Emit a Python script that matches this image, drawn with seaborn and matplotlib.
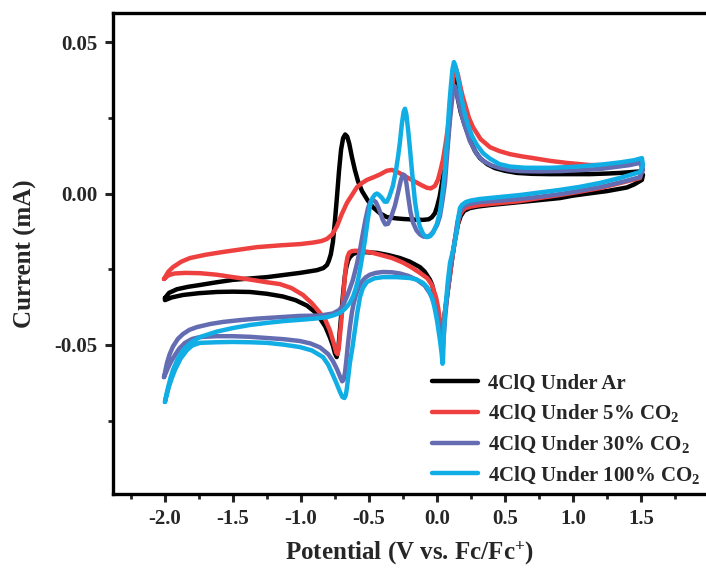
import numpy as np
import pandas as pd
import matplotlib
matplotlib.use("Agg")
import matplotlib.pyplot as plt
import seaborn as sns
from matplotlib.ticker import FixedLocator, FixedFormatter

# ---------------- data: (Potential V vs Fc/Fc+, Current mA) ----------------
labels = ["4ClQ Under Ar", "4ClQ Under 5% CO$_2$",
          "4ClQ Under 30% CO$_2$", "4ClQ Under 100% CO$_2$"]
colors = ["#000000", "#EF4040", "#646CB2", "#10AEE4"]

# Ar -- anodic branch (-2.0 -> 1.5)
ar_anodic = [(-2.0, -0.0345), (-1.97, -0.0328), (-1.912, -0.0316), (-1.83, -0.0308), (-1.743, -0.0302),
             (-1.62, -0.0293), (-1.5, -0.0285), (-1.25, -0.0276), (-1.007, -0.0262), (-0.882, -0.0253),
             (-0.835, -0.0246), (-0.809, -0.0236), (-0.795, -0.0222), (-0.78, -0.0200), (-0.765, -0.0160),
             (-0.75, -0.0090), (-0.735, -0.0010), (-0.72, 0.0075), (-0.705, 0.0145), (-0.69, 0.0183),
             (-0.675, 0.0195), (-0.66, 0.0188), (-0.645, 0.0165), (-0.625, 0.0120), (-0.603, 0.0077),
             (-0.58, 0.0040), (-0.551, 0.0008), (-0.51, -0.0022), (-0.471, -0.0045), (-0.42, -0.0065),
             (-0.368, -0.0078), (-0.30, -0.0082), (-0.25, -0.0084), (-0.17, -0.0086), (-0.103, -0.0087),
             (-0.06, -0.0085), (-0.037, -0.0078), (-0.015, -0.0065), (0.0, -0.0045), (0.02, -0.0010),
             (0.037, 0.0035), (0.055, 0.0090), (0.074, 0.0150), (0.09, 0.0230), (0.103, 0.0305),
             (0.115, 0.0360), (0.125, 0.0380), (0.137, 0.0362), (0.154, 0.0312), (0.175, 0.0268),
             (0.2, 0.0232), (0.243, 0.0177), (0.28, 0.0140), (0.316, 0.0117), (0.37, 0.0097),
             (0.426, 0.0084), (0.5, 0.0075), (0.588, 0.0068), (0.7, 0.0065), (0.831, 0.0064),
             (1.0, 0.0064), (1.125, 0.0064), (1.25, 0.0066), (1.346, 0.0068), (1.44, 0.0071),
             (1.493, 0.0073), (1.515, 0.0062)]
# Ar -- cathodic branch (1.5 -> -2.0)
ar_cathodic = [(1.507, 0.0045), (1.45, 0.0030), (1.397, 0.0020), (1.25, 0.0008), (1.147, 0.0002),
               (1.0, -0.0007), (0.904, -0.0015), (0.75, -0.0022), (0.610, -0.0028), (0.5, -0.0033),
               (0.390, -0.0038), (0.3, -0.0043), (0.243, -0.0048), (0.2, -0.0057), (0.175, -0.0074),
               (0.154, -0.0102), (0.13, -0.0160), (0.110, -0.0219), (0.095, -0.0270), (0.081, -0.0318),
               (0.065, -0.0370), (0.051, -0.0417), (0.038, -0.0452), (0.029, -0.0460), (0.018, -0.0435),
               (0.007, -0.0394), (-0.015, -0.0342), (-0.035, -0.0302), (-0.051, -0.0285), (-0.09, -0.0258),
               (-0.125, -0.0243), (-0.2, -0.0225), (-0.272, -0.0213), (-0.36, -0.0203), (-0.441, -0.0196),
               (-0.544, -0.0193), (-0.59, -0.0195), (-0.618, -0.0200), (-0.64, -0.0210), (-0.654, -0.0222),
               (-0.667, -0.0245), (-0.676, -0.0268), (-0.688, -0.0320), (-0.699, -0.0375), (-0.713, -0.0450),
               (-0.725, -0.0510), (-0.737, -0.0540), (-0.75, -0.0528), (-0.765, -0.0502), (-0.787, -0.0475),
               (-0.82, -0.0440), (-0.86, -0.0412), (-0.90, -0.0390), (-0.956, -0.0370), (-1.04, -0.0352),
               (-1.132, -0.0340), (-1.25, -0.0331), (-1.375, -0.0325), (-1.5, -0.0324), (-1.618, -0.0325),
               (-1.75, -0.0329), (-1.868, -0.0335), (-1.95, -0.0343), (-2.0, -0.0352)]

# 5% CO2
co2_5_anodic = [(-2.007, -0.0282), (-1.975, -0.0258), (-1.941, -0.0243), (-1.88, -0.0225), (-1.816, -0.0213),
                (-1.7, -0.0202), (-1.574, -0.0193), (-1.45, -0.0185), (-1.324, -0.0177), (-1.15, -0.0171),
                (-1.007, -0.0167), (-0.912, -0.0162), (-0.85, -0.0157), (-0.809, -0.0150), (-0.77, -0.0135),
                (-0.735, -0.0108), (-0.70, -0.0068), (-0.662, -0.0031), (-0.625, -0.0005), (-0.588, 0.0021),
                (-0.55, 0.0035), (-0.515, 0.0045), (-0.47, 0.0053), (-0.419, 0.0063), (-0.37, 0.0075),
                (-0.331, 0.0078), (-0.29, 0.0071), (-0.25, 0.0061), (-0.21, 0.0051), (-0.176, 0.0043),
                (-0.12, 0.0029), (-0.074, 0.0019), (-0.045, 0.0017), (-0.015, 0.0025), (0.007, 0.0045),
                (0.025, 0.0075), (0.044, 0.0111), (0.062, 0.0160), (0.081, 0.0219), (0.097, 0.0280),
                (0.110, 0.0330), (0.122, 0.0390), (0.132, 0.0415), (0.142, 0.0410), (0.155, 0.0390),
                (0.169, 0.0360), (0.185, 0.0328), (0.206, 0.0295), (0.235, 0.0250), (0.265, 0.0219),
                (0.32, 0.0180), (0.390, 0.0153), (0.46, 0.0140), (0.537, 0.0130), (0.62, 0.0123),
                (0.706, 0.0117), (0.83, 0.0108), (0.956, 0.0101), (1.125, 0.0094), (1.324, 0.0094),
                (1.43, 0.0099), (1.493, 0.0104), (1.507, 0.0085)]
co2_5_cathodic = [(1.493, 0.0051), (1.35, 0.0035), (1.199, 0.0018), (1.05, 0.0006), (0.904, -0.0005),
                  (0.75, -0.0015), (0.610, -0.0025), (0.45, -0.0032), (0.316, -0.0038), (0.25, -0.0043),
                  (0.206, -0.0049), (0.185, -0.0058), (0.169, -0.0071), (0.15, -0.0105), (0.132, -0.0153),
                  (0.115, -0.0205), (0.096, -0.0269), (0.08, -0.0320), (0.066, -0.0368), (0.052, -0.0415),
                  (0.040, -0.0440), (0.033, -0.0445), (0.022, -0.0420), (0.008, -0.0375), (-0.007, -0.0342),
                  (-0.037, -0.0302), (-0.07, -0.0280), (-0.125, -0.0262), (-0.19, -0.0243), (-0.25, -0.0228),
                  (-0.33, -0.0213), (-0.419, -0.0202), (-0.49, -0.0194), (-0.544, -0.0190), (-0.60, -0.0189),
                  (-0.625, -0.0190), (-0.645, -0.0195), (-0.658, -0.0210), (-0.668, -0.0235), (-0.680, -0.0290),
                  (-0.691, -0.0351), (-0.703, -0.0420), (-0.713, -0.0467), (-0.722, -0.0510), (-0.730, -0.0530),
                  (-0.740, -0.0525), (-0.757, -0.0497), (-0.787, -0.0452), (-0.82, -0.0418), (-0.86, -0.0394),
                  (-0.92, -0.0362), (-0.985, -0.0335), (-1.07, -0.0312), (-1.154, -0.0299), (-1.25, -0.0293),
                  (-1.375, -0.0284), (-1.5, -0.0276), (-1.62, -0.0268), (-1.743, -0.0263), (-1.85, -0.0262),
                  (-1.93, -0.0264), (-1.975, -0.0270), (-2.007, -0.0282)]

# 30% CO2
co2_30_anodic = [(-2.007, -0.0606), (-1.995, -0.0580), (-1.985, -0.0559), (-1.965, -0.0530), (-1.941, -0.0505),
                 (-1.905, -0.0480), (-1.868, -0.0464), (-1.82, -0.0450), (-1.765, -0.0441), (-1.67, -0.0431),
                 (-1.574, -0.0424), (-1.45, -0.0418), (-1.324, -0.0413), (-1.15, -0.0408), (-1.007, -0.0404),
                 (-0.860, -0.0403), (-0.765, -0.0396), (-0.72, -0.0385), (-0.691, -0.0370), (-0.655, -0.0332),
                 (-0.618, -0.0285), (-0.59, -0.0235), (-0.566, -0.0186), (-0.544, -0.0130), (-0.525, -0.0085),
                 (-0.507, -0.0048), (-0.488, -0.0026), (-0.471, -0.0021), (-0.45, -0.0028), (-0.43, -0.0047),
                 (-0.40, -0.0085), (-0.38, -0.0102), (-0.36, -0.0100), (-0.335, -0.0075), (-0.309, -0.0040),
                 (-0.285, 0.0005), (-0.265, 0.0045), (-0.250, 0.0063), (-0.238, 0.0060), (-0.225, 0.0035),
                 (-0.213, -0.0005), (-0.195, -0.0060), (-0.176, -0.0096), (-0.15, -0.0122), (-0.125, -0.0135),
                 (-0.10, -0.0142), (-0.074, -0.0143), (-0.05, -0.0138), (-0.029, -0.0127), (0.0, -0.0105),
                 (0.022, -0.0075), (0.04, -0.0025), (0.059, 0.0035), (0.07, 0.0100), (0.081, 0.0165),
                 (0.095, 0.0240), (0.110, 0.0305), (0.120, 0.0345), (0.130, 0.0355), (0.143, 0.0337),
                 (0.16, 0.0303), (0.18, 0.0263), (0.2, 0.0230), (0.243, 0.0172), (0.29, 0.0132),
                 (0.338, 0.0108), (0.4, 0.0093), (0.463, 0.0084), (0.54, 0.0077), (0.610, 0.0074),
                 (0.75, 0.0073), (0.904, 0.0074), (1.05, 0.0077), (1.199, 0.0081), (1.32, 0.0088),
                 (1.419, 0.0094), (1.48, 0.0100), (1.507, 0.0100)]
co2_30_cathodic = [(1.515, 0.0078), (1.493, 0.0054), (1.35, 0.0037), (1.199, 0.0021), (1.05, 0.0009),
                   (0.904, -0.0002), (0.75, -0.0011), (0.610, -0.0018), (0.45, -0.0024), (0.316, -0.0028),
                   (0.25, -0.0033), (0.213, -0.0038), (0.185, -0.0049), (0.169, -0.0061), (0.15, -0.0095),
                   (0.132, -0.0153), (0.115, -0.0200), (0.096, -0.0252), (0.085, -0.0298), (0.074, -0.0342),
                   (0.059, -0.0417), (0.050, -0.0470), (0.044, -0.0505), (0.036, -0.0495), (0.022, -0.0457),
                   (0.010, -0.0425), (0.0, -0.0398), (-0.025, -0.0357), (-0.051, -0.0330), (-0.09, -0.0304),
                   (-0.147, -0.0285), (-0.21, -0.0272), (-0.272, -0.0264), (-0.33, -0.0260), (-0.397, -0.0259),
                   (-0.45, -0.0262), (-0.493, -0.0268), (-0.525, -0.0277), (-0.551, -0.0290), (-0.575, -0.0310),
                   (-0.596, -0.0335), (-0.612, -0.0362), (-0.625, -0.0392), (-0.640, -0.0440), (-0.654, -0.0495),
                   (-0.666, -0.0550), (-0.676, -0.0590), (-0.686, -0.0615), (-0.697, -0.0620), (-0.712, -0.0605),
                   (-0.735, -0.0580), (-0.765, -0.0553), (-0.80, -0.0530), (-0.860, -0.0508), (-0.93, -0.0495),
                   (-1.007, -0.0487), (-1.125, -0.0481), (-1.25, -0.0477), (-1.375, -0.0473), (-1.5, -0.0471),
                   (-1.62, -0.0471), (-1.743, -0.0474), (-1.80, -0.0480), (-1.853, -0.0493), (-1.895, -0.0512),
                   (-1.926, -0.0533), (-1.955, -0.0555), (-1.978, -0.0576), (-2.007, -0.0606)]

# 100% CO2
co2_100_anodic = [(-2.0, -0.0688), (-1.99, -0.0665), (-1.978, -0.0642), (-1.96, -0.0610), (-1.941, -0.0582),
                  (-1.905, -0.0545), (-1.868, -0.0517), (-1.81, -0.0492), (-1.743, -0.0474), (-1.62, -0.0456),
                  (-1.5, -0.0444), (-1.375, -0.0434), (-1.25, -0.0427), (-1.125, -0.0421), (-1.007, -0.0417),
                  (-0.90, -0.0413), (-0.809, -0.0408), (-0.76, -0.0402), (-0.713, -0.0394), (-0.675, -0.0380),
                  (-0.640, -0.0361), (-0.615, -0.0338), (-0.596, -0.0312), (-0.580, -0.0285), (-0.566, -0.0252),
                  (-0.548, -0.0205), (-0.529, -0.0153), (-0.51, -0.0090), (-0.493, -0.0042), (-0.475, -0.0015),
                  (-0.455, -0.0003), (-0.441, 0.0), (-0.425, -0.0005), (-0.404, -0.0015), (-0.385, -0.0027),
                  (-0.368, -0.0027), (-0.35, -0.0010), (-0.324, 0.0025), (-0.30, 0.0080), (-0.285, 0.0125),
                  (-0.272, 0.0170), (-0.258, 0.0230), (-0.245, 0.0270), (-0.235, 0.0280), (-0.225, 0.0262),
                  (-0.212, 0.0210), (-0.199, 0.0150), (-0.185, 0.0080), (-0.172, 0.0020), (-0.162, -0.0025),
                  (-0.145, -0.0075), (-0.125, -0.0110), (-0.10, -0.0135), (-0.074, -0.0144), (-0.05, -0.0141),
                  (-0.029, -0.0130), (0.0, -0.0100), (0.022, -0.0061), (0.04, 0.0), (0.059, 0.0078),
                  (0.070, 0.0150), (0.081, 0.0226), (0.092, 0.0300), (0.103, 0.0358), (0.114, 0.0410),
                  (0.125, 0.0434), (0.137, 0.0420), (0.154, 0.0385), (0.17, 0.0343), (0.184, 0.0307),
                  (0.205, 0.0262), (0.228, 0.0226), (0.26, 0.0188), (0.294, 0.0160), (0.34, 0.0133),
                  (0.390, 0.0115), (0.46, 0.0097), (0.537, 0.0089), (0.65, 0.0085), (0.831, 0.0085),
                  (1.0, 0.0088), (1.199, 0.0095), (1.35, 0.0103), (1.45, 0.0110), (1.507, 0.0117)]
co2_100_cathodic = [(1.515, 0.0094), (1.493, 0.0071), (1.35, 0.0052), (1.199, 0.0035), (1.05, 0.0022),
                    (0.904, 0.0012), (0.75, 0.0003), (0.610, -0.0005), (0.45, -0.0012), (0.316, -0.0018),
                    (0.25, -0.0023), (0.213, -0.0028), (0.185, -0.0037), (0.169, -0.0048), (0.155, -0.0085),
                    (0.147, -0.0120), (0.125, -0.0175), (0.096, -0.0229), (0.08, -0.0290), (0.070, -0.0340),
                    (0.059, -0.0394), (0.052, -0.0450), (0.047, -0.0510), (0.044, -0.0555), (0.041, -0.0562),
                    (0.035, -0.0530), (0.022, -0.0484), (0.010, -0.0447), (0.0, -0.0418), (-0.018, -0.0376),
                    (-0.037, -0.0342), (-0.07, -0.0310), (-0.103, -0.0295), (-0.15, -0.0284), (-0.199, -0.0279),
                    (-0.3, -0.0276), (-0.397, -0.0276), (-0.46, -0.0280), (-0.515, -0.0292), (-0.545, -0.0312),
                    (-0.566, -0.0342), (-0.585, -0.0392), (-0.603, -0.0450), (-0.622, -0.0510), (-0.640, -0.0559),
                    (-0.652, -0.0605), (-0.662, -0.0642), (-0.670, -0.0665), (-0.680, -0.0675), (-0.695, -0.0672),
                    (-0.713, -0.0655), (-0.74, -0.0625), (-0.765, -0.0599), (-0.80, -0.0565), (-0.838, -0.0540),
                    (-0.92, -0.0518), (-1.007, -0.0507), (-1.125, -0.0499), (-1.25, -0.0493), (-1.375, -0.0491),
                    (-1.5, -0.0490), (-1.62, -0.0491), (-1.743, -0.0493), (-1.80, -0.0502), (-1.838, -0.0517),
                    (-1.885, -0.0545), (-1.926, -0.0582), (-1.95, -0.0610), (-1.971, -0.0638), (-2.0, -0.0688)]

x_major = [-2.0, -1.5, -1.0, -0.5, 0.0, 0.5, 1.0, 1.5]
x_major_labels = ["-2.0", "-1.5", "-1.0", "-0.5", "0.0", "0.5", "1.0", "1.5"]
x_minor = [-2.25, -1.75, -1.25, -0.75, -0.25, 0.25, 0.75, 1.25, 1.75]
y_major = [-0.05, 0.0, 0.05]
y_major_labels = ["-0.05", "0.00", "0.05"]
y_minor = [-0.075, -0.025, 0.025]

# ---------------- build table (closed loops, in scan order) ----------------
branches = [(ar_anodic, ar_cathodic), (co2_5_anodic, co2_5_cathodic),
            (co2_30_anodic, co2_30_cathodic), (co2_100_anodic, co2_100_cathodic)]
frames = []
for lab, (an, ca) in zip(labels, branches):
    pts = np.array(an + ca + [an[0]])
    frames.append(pd.DataFrame({"V": pts[:, 0], "I": pts[:, 1], "cond": lab}))
df = pd.concat(frames, ignore_index=True)

# ---------------- style ----------------
sns.set_style("ticks")
plt.rcParams["font.family"] = ["Liberation Serif", "DejaVu Serif"]
plt.rcParams["font.weight"] = "bold"
plt.rcParams["mathtext.fontset"] = "custom"
plt.rcParams["mathtext.rm"] = "Liberation Serif:bold"
plt.rcParams["mathtext.bf"] = "Liberation Serif:bold"
plt.rcParams["mathtext.it"] = "Liberation Serif:bold"
plt.rcParams["mathtext.default"] = "rm"
plt.rcParams["axes.unicode_minus"] = False

fig = plt.figure(figsize=(7.06, 5.72), dpi=100)
W, H = 706, 572
x0, x1 = -2.382, 2.0
y0, y1 = -0.0992, 0.0596
ax_w = (x1 - x0) * 136 / W
ax = fig.add_axes([113 / W, 1 - 494 / H, ax_w, 481 / H])

sns.lineplot(data=df, x="V", y="I", hue="cond", hue_order=labels,
             palette=colors, sort=False, estimator=None, units="cond",
             linewidth=3.2, ax=ax, legend=True)
for ln in ax.get_lines():
    ln.set_solid_joinstyle("round")
    ln.set_solid_capstyle("round")

ax.set_xlim(x0, x1)
ax.set_ylim(y0, y1)

ax.xaxis.set_major_locator(FixedLocator(x_major))
ax.xaxis.set_major_formatter(FixedFormatter(x_major_labels))
ax.xaxis.set_minor_locator(FixedLocator(x_minor))
ax.yaxis.set_major_locator(FixedLocator(y_major))
ax.yaxis.set_major_formatter(FixedFormatter(y_major_labels))
ax.yaxis.set_minor_locator(FixedLocator(y_minor))

for s in ax.spines.values():
    s.set_linewidth(2.4)
    s.set_color("black")
ax.tick_params(which="major", direction="out", length=6, width=2.2,
               labelsize=15, pad=5)
ax.tick_params(which="minor", direction="out", length=3.5, width=2.0)
for t in ax.get_xticklabels() + ax.get_yticklabels():
    t.set_fontweight("bold")

ax.set_xlabel("Potential (V vs. Fc/Fc$^{+}$)", fontsize=18, fontweight="bold")
ax.set_ylabel("Current (mA)", fontsize=18, fontweight="bold", labelpad=13)
ax.xaxis.set_label_coords((410 - 113) / (ax_w * W), -0.095)

handles, _ = ax.get_legend_handles_labels()
ax.legend(handles=handles[:4], labels=labels, loc="upper left",
          bbox_to_anchor=(0.535, 0.25), frameon=False,
          prop={"family": "Liberation Serif", "weight": "bold", "size": 15},
          handlelength=2.2, handletextpad=0.5, labelspacing=0.45,
          borderaxespad=0, borderpad=0)
for l in ax.get_legend().get_lines():
    l.set_linewidth(3.2)

fig.savefig("out.png", dpi=100)
